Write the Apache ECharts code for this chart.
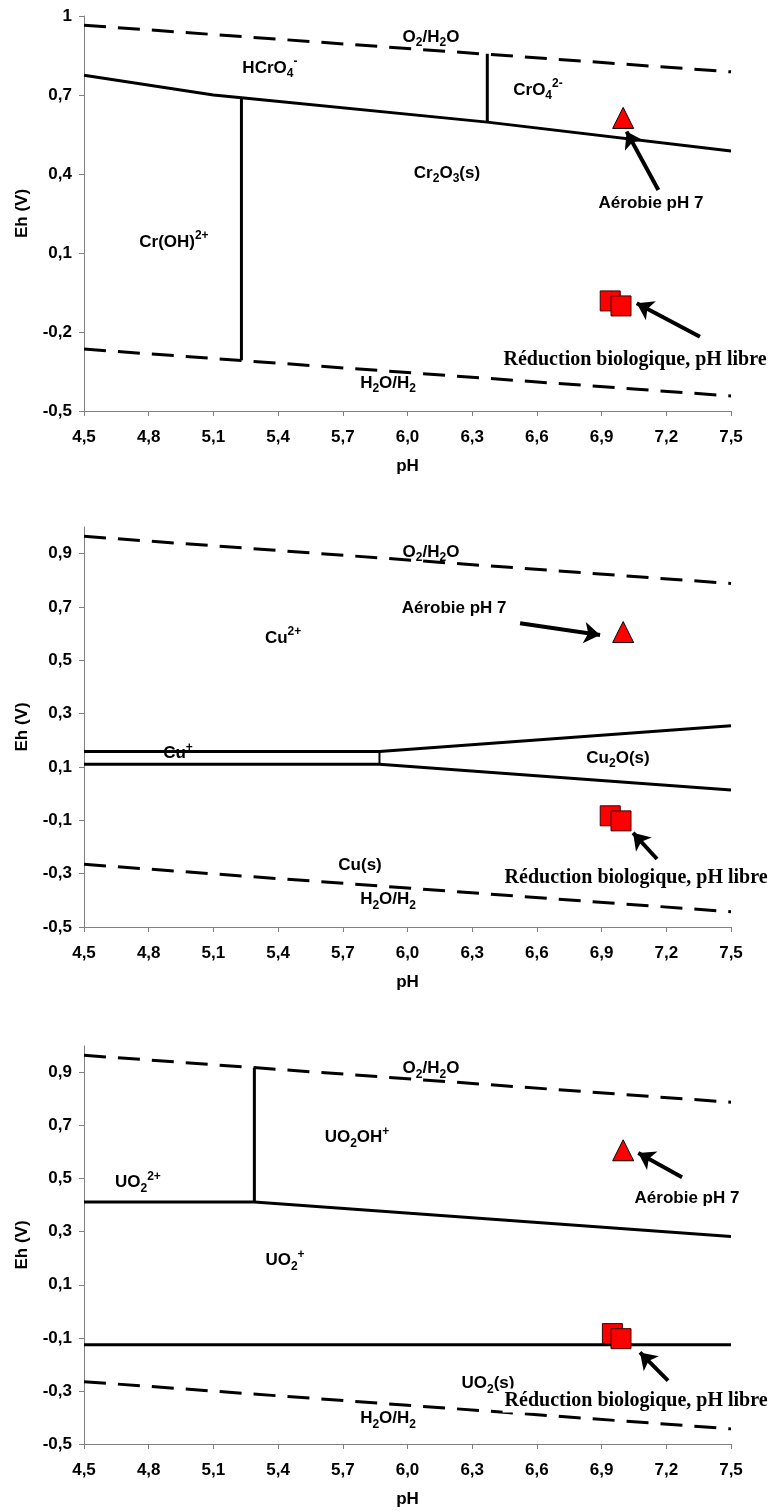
<!DOCTYPE html>
<html>
<head>
<meta charset="utf-8">
<script src="https://cdn.jsdelivr.net/npm/echarts@6/dist/echarts.min.js"></script>
<style>
html,body{margin:0;padding:0;background:#fff;}
#chart{width:772px;height:1512px;}
</style>
</head>
<body>
<div id="chart"></div>
<script>
// ---------- tick labels ----------
const xTicks = [4.5, 4.8, 5.1, 5.4, 5.7, 6.0, 6.3, 6.6, 6.9, 7.2, 7.5];
const yTicksCr = [-0.5, -0.2, 0.1, 0.4, 0.7, 1.0];
const yTicksCuU = [-0.5, -0.3, -0.1, 0.1, 0.3, 0.5, 0.7, 0.9];

// ---------- water stability lines (pH, Eh) ----------
const o2h2o = [[4.5, 0.965], [7.5, 0.788]];
const h2oh2 = [[4.5, -0.265], [7.5, -0.443]];

// ---------- Chromium ----------
const crBoundary = [[4.5, 0.775], [5.1, 0.700], [5.23, 0.690], [6.37, 0.597], [7.5, 0.487]];
const crVertLeft = [[5.23, 0.690], [5.23, -0.307]];
const crVertRight = [[6.37, 0.857], [6.37, 0.597]];
const crAerobic = [[7.0, 0.613]];
const crReduction = [[6.94, -0.082], [6.99, -0.101]];

// ---------- Copper ----------
const cuUpper = [[4.5, 0.158], [5.87, 0.158], [7.5, 0.255]];
const cuLower = [[4.5, 0.110], [5.87, 0.110], [7.5, 0.014]];
const cuVert = [[5.87, 0.158], [5.87, 0.110]];
const cuAerobic = [[7.0, 0.606]];
const cuReduction = [[6.94, -0.083], [6.99, -0.102]];

// ---------- Uranium ----------
const uUpper = [[4.5, 0.412], [5.29, 0.412], [7.5, 0.282]];
const uVert = [[5.29, 0.918], [5.29, 0.412]];
const uLower = [[4.5, -0.126], [7.5, -0.126]];
const uAerobic = [[7.0, 0.607]];
const uReduction = [[6.95, -0.084], [6.99, -0.103]];

// ---------- annotations (data coordinates) ----------
const crLabels = [
  ['HCrO{sub|4}{sup|-}', 5.362, 0.803],
  ['O{sub|2}/H{sub|2}O', 6.109, 0.920],
  ['CrO{sub|4}{sup|2-}', 6.605, 0.719],
  ['Cr{sub|2}O{sub|3}(s)', 6.183, 0.404],
  ['Aérobie pH 7', 7.129, 0.290],
  ['Cr(OH){sup|2+}', 4.917, 0.142],
  ['H{sub|2}O/H{sub|2}', 5.910, -0.394]
];
const cuLabels = [
  ['O{sub|2}/H{sub|2}O', 6.109, 0.906],
  ['Aérobie pH 7', 6.216, 0.696],
  ['Cu{sup|2+}', 5.423, 0.584],
  ['Cu{sup|+}', 4.936, 0.150],
  ['Cu{sub|2}O(s)', 6.976, 0.134],
  ['Cu(s)', 5.780, -0.267],
  ['H{sub|2}O/H{sub|2}', 5.910, -0.398]
];
const uLabels = [
  ['O{sub|2}/H{sub|2}O', 6.109, 0.916],
  ['UO{sub|2}OH{sup|+}', 5.766, 0.656],
  ['UO{sub|2}{sup|2+}', 4.750, 0.486],
  ['Aérobie pH 7', 7.296, 0.425],
  ['UO{sub|2}{sup|+}', 5.432, 0.192],
  ['UO{sub|2}(s)', 6.373, -0.272],
  ['H{sub|2}O/H{sub|2}', 5.910, -0.404]
];
const reductionText = 'Réduction biologique, pH libre';
const reductionPos = [[7.055, -0.307], [7.06, -0.316], [7.06, -0.336]];

const crArrows = [[[7.163, 0.339], [7.016, 0.561]], [[7.356, -0.218], [7.063, -0.091]]];
const cuArrows = [[[6.522, 0.639], [6.893, 0.595]], [[7.157, -0.245], [7.046, -0.147]]];
const uArrows = [[[7.273, 0.505], [7.070, 0.597]], [[7.208, -0.261], [7.078, -0.155]]];

// ---------- build ----------
const SANS = '"Liberation Sans", Arial, Helvetica, sans-serif';
const SERIF = '"Liberation Serif", "Times New Roman", serif';
const rich = {
  sub: {fontSize: 12, fontWeight: 'bold', fontFamily: SANS, color: '#000', verticalAlign: 'bottom', lineHeight: 13},
  sup: {fontSize: 12, fontWeight: 'bold', fontFamily: SANS, color: '#000', verticalAlign: 'top', lineHeight: 13}
};

const grids = [
  {left: 84, width: 647, top: 16, height: 395},
  {left: 84, width: 647, top: 527, height: 400},
  {left: 84, width: 647, top: 1046, height: 398}
].map(g => Object.assign({outerBoundsMode: 'none', containLabel: false}, g));

function fmtY(v) {
  const r = Math.round(v * 10) / 10;
  if (Number.isInteger(r) && r !== 0) return String(r);
  return r.toFixed(1).replace('.', ',');
}
function fmtX(v) {
  return (Math.round(v * 10) / 10).toFixed(1).replace('.', ',');
}
const axisLine = {show: true, onZero: false, lineStyle: {color: '#808080', width: 1}};
const axisTick = (vals) => ({show: true, inside: false, length: 5, lineStyle: {color: '#808080', width: 1}, customValues: vals});
const labelStyle = {color: '#000', fontFamily: SANS, fontWeight: 'bold', fontSize: 17};

const xAxes = [0, 1, 2].map(i => ({
  type: 'value', gridIndex: i, min: 4.5, max: 7.5, interval: 0.3,
  axisLine, axisTick: axisTick(xTicks), splitLine: {show: false},
  axisLabel: Object.assign({margin: 18, formatter: fmtX, customValues: xTicks}, labelStyle),
  name: 'pH', nameLocation: 'middle', nameGap: 47,
  nameTextStyle: {color: '#000', fontFamily: SANS, fontWeight: 'bold', fontSize: 17}
}));
const yAxes = [0, 1, 2].map(i => {
  const ticks = i === 0 ? yTicksCr : yTicksCuU;
  return {
    type: 'value', gridIndex: i, min: -0.5, max: 1.0, interval: i === 0 ? 0.3 : 0.2,
    axisLine, axisTick: axisTick(ticks), splitLine: {show: false},
    axisLabel: Object.assign({margin: 12, formatter: fmtY, customValues: ticks}, labelStyle),
    name: 'Eh (V)', nameLocation: 'middle', nameGap: 53,
    nameTextStyle: {color: '#000', fontFamily: SANS, fontWeight: 'bold', fontSize: 17}
  };
});

const series = [];
function lineS(i, data, dashed, width) {
  series.push({
    type: 'line', xAxisIndex: i, yAxisIndex: i, data, symbol: 'none', silent: true,
    animation: false, z: 2,
    lineStyle: {color: '#000', width: width || 3, opacity: 1, type: dashed ? [22, 12] : 'solid', cap: 'butt', join: 'miter'}
  });
}
function markers(i, tri, squares, arrows) {
  series.push({
    type: 'scatter', xAxisIndex: i, yAxisIndex: i, data: tri, symbol: 'triangle', symbolSize: [21, 21],
    itemStyle: {color: '#FF0000', borderColor: '#000', borderWidth: 1, opacity: 1}, z: 4, animation: false, silent: true
  });
  series.push({
    type: 'scatter', xAxisIndex: i, yAxisIndex: i, data: squares, symbol: 'rect', symbolSize: 20,
    itemStyle: {color: '#FF0000', borderColor: '#400000', borderWidth: 1, opacity: 1}, z: 4, animation: false, silent: true,
    markLine: {
      silent: true, animation: false, symbol: ['none', 'arrow'], symbolSize: 16, label: {show: false},
      lineStyle: {color: '#000', width: 4, type: 'solid', opacity: 1},
      emphasis: {disabled: true},
      data: arrows.map(a => [{coord: a[0]}, {coord: a[1]}])
    }
  });
}
function texts(i, labels, red) {
  series.push({
    type: 'scatter', xAxisIndex: i, yAxisIndex: i, symbolSize: 1, z: 6, animation: false, silent: true,
    itemStyle: {color: 'rgba(0,0,0,0)', opacity: 1},
    data: labels.map(l => ({value: [l[1], l[2]], t: l[0]})),
    label: {
      show: true, position: 'inside', formatter: p => p.data.t, color: '#000', opacity: 1,
      fontFamily: SANS, fontWeight: 'bold', fontSize: 17, lineHeight: 24, rich
    }
  });
  series.push({
    type: 'scatter', xAxisIndex: i, yAxisIndex: i, symbolSize: 1, z: 7, animation: false, silent: true,
    itemStyle: {color: 'rgba(0,0,0,0)', opacity: 1},
    data: [{value: red, t: reductionText}],
    label: {
      show: true, position: 'inside', formatter: p => p.data.t, color: '#000', opacity: 1,
      fontFamily: SERIF, fontWeight: 'bold', fontSize: 20, lineHeight: 24,
      backgroundColor: '#fff', padding: [0, 2]
    }
  });
}

// Panel 1: Cr
lineS(0, o2h2o, true); lineS(0, h2oh2, true);
lineS(0, crBoundary); lineS(0, crVertLeft); lineS(0, crVertRight);
texts(0, crLabels, reductionPos[0]);
markers(0, crAerobic, crReduction, crArrows);
// Panel 2: Cu
lineS(1, o2h2o, true); lineS(1, h2oh2, true);
lineS(1, cuUpper); lineS(1, cuLower); lineS(1, cuVert, false, 2);
texts(1, cuLabels, reductionPos[1]);
markers(1, cuAerobic, cuReduction, cuArrows);
// Panel 3: U
lineS(2, o2h2o, true); lineS(2, h2oh2, true);
lineS(2, uUpper); lineS(2, uVert); lineS(2, uLower);
texts(2, uLabels, reductionPos[2]);
markers(2, uAerobic, uReduction, uArrows);

const chart = echarts.init(document.getElementById('chart'), null, {renderer: 'canvas'});
chart.setOption({
  backgroundColor: '#fff',
  animation: false,
  grid: grids,
  xAxis: xAxes,
  yAxis: yAxes,
  series
});
</script>
</body>
</html>
